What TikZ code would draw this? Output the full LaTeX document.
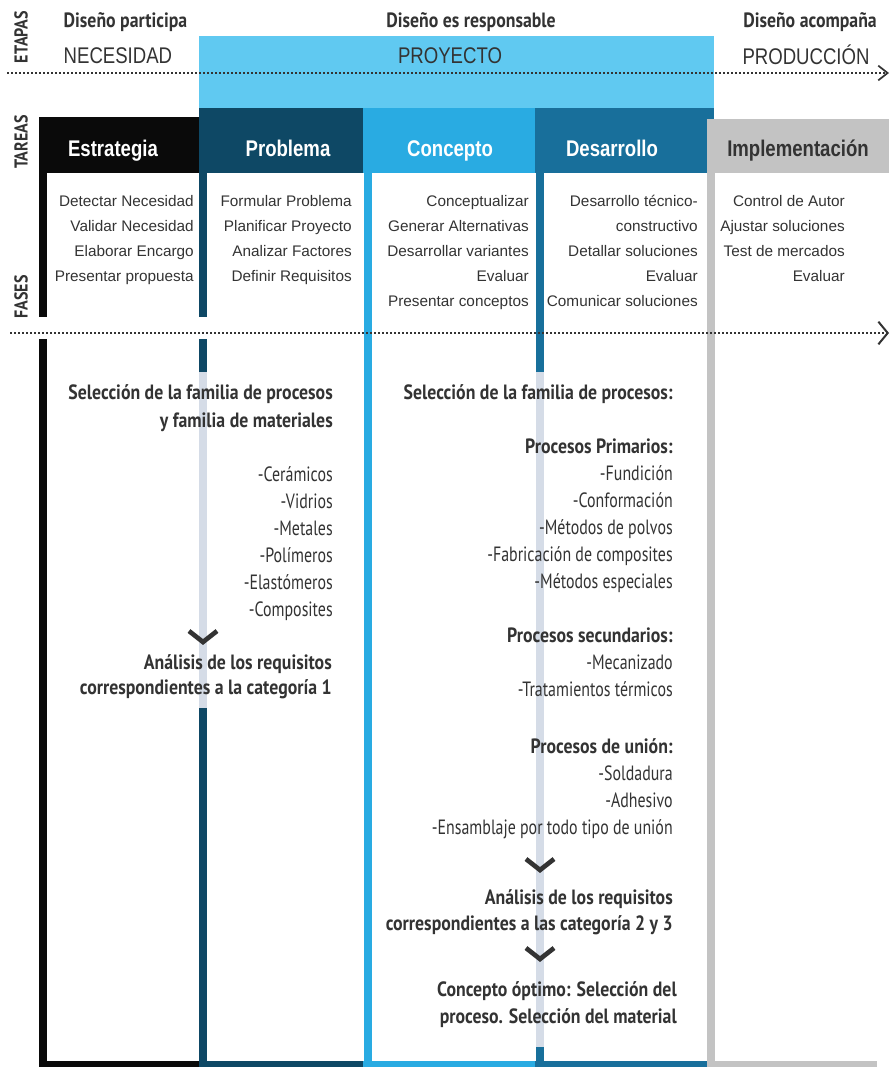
\documentclass[tikz,border=0pt]{standalone}
\usepackage{fontspec}
\setmainfont{Liberation Sans}
\newfontfamily\narrowfont[FakeStretch=0.82]{Liberation Sans}
\newfontfamily\condfont[FakeStretch=0.77]{PT Sans}
\newfontfamily\condbold[FakeStretch=0.86]{PT Sans}
\usetikzlibrary{positioning,arrows.meta}
\definecolor{estrat}{HTML}{0A0A0A}
\definecolor{problem}{HTML}{0E4865}
\definecolor{concep}{HTML}{29ABE2}
\definecolor{desarr}{HTML}{186F9B}
\definecolor{implem}{HTML}{C3C3C3}
\definecolor{proyband}{HTML}{60C9F1}
\definecolor{paleline}{HTML}{D5DCE7}
\definecolor{txtgray}{HTML}{333333}
\tikzset{
	vline/.style={line width=6pt},
	baseline/.style={line width=4.5pt},
	dotline/.style={txtgray, line width=1.6pt, dash pattern=on 1.4pt off 1.6pt},
	header/.style={anchor=base, text=white, font=\narrowfont\bfseries\fontsize{17}{20}\selectfont},
	etapa/.style={anchor=base, text=txtgray, font=\narrowfont\fontsize{17}{20}\selectfont},
	rol/.style={anchor=base, text=txtgray, font=\condbold\bfseries\fontsize{15.5}{18}\selectfont},
	tarea/.style={anchor=north east, align=right, inner sep=0pt, text=txtgray, font=\fontsize{11.5}{18.75}\selectfont},
	bloque/.style={anchor=north east, align=right, inner sep=0pt, text=txtgray, font=\condfont\fontsize{15.5}{20.25}\selectfont},
	titulo/.style={bloque, font=\condbold\bfseries\fontsize{15.5}{#1}\selectfont},
	etiqueta/.style={rotate=90, text=txtgray, font=\condbold\bfseries\fontsize{14}{16}\selectfont},
	chevron/.style={txtgray, line width=3.5pt, miter limit=10},
}
\begin{document}
\begin{tikzpicture}[x=0.75pt,y=-0.75pt]
	\useasboundingbox (0,0) rectangle (889,1067);
	\fill[proyband] (199,36) rectangle (714,108);
	\fill[estrat] (39,117) rectangle (199,173);
	\fill[problem] (199,108) rectangle (363,173);
	\fill[concep] (363,108) rectangle (535,173);
	\fill[desarr] (535,108) rectangle (714,173);
	\fill[implem] (707,119) rectangle (889,173);

	\draw[vline, estrat] (43,173) -- (43,317);
	\draw[vline, estrat] (43,339) -- (43,1067);
	\draw[vline, problem] (203,173) -- (203,317);
	\draw[vline, problem] (203,339) -- (203,372);
	\draw[vline, paleline] (203,372) -- (203,708);
	\draw[vline, problem] (203,708) -- (203,1067);
	\draw[vline, concep] (368,173) -- (368,1067);
	\draw[vline, desarr] (539.5,173) -- (539.5,372);
	\draw[vline, paleline] (539.5,372) -- (539.5,1047);
	\draw[vline, desarr] (539.5,1047) -- (539.5,1067);
	\draw[vline, implem] (711,173) -- (711,1061);
	\draw[baseline, estrat] (39,1064) -- (199,1064);
	\draw[baseline, problem] (199,1064) -- (363,1064);
	\draw[baseline, concep] (363,1064) -- (535,1064);
	\draw[baseline, desarr] (535,1064) -- (707,1064);
	\draw[baseline, implem] (707,1064) -- (877,1064);

	\coordinate (etL) at (7,73);
	\coordinate (etR) at (889,73);
	\coordinate (faL) at (10,333);
	\coordinate (faR) at (889,333);
	\draw[dotline, -{Straight Barb[length=7pt, width=11pt, line width=1.3pt]}] (etL) -- (etR);
	\draw[dotline, -{Straight Barb[length=7pt, width=17pt, line width=1.5pt]}] (faL) -- (faR);

	\node[etiqueta] (lEtapas) at (21,37) {ETAPAS};
	\node[etiqueta] (lTareas) at (21,142) {TAREAS};
	\node[etiqueta] (lFases) at (21,297) {FASES};

	\node[rol, anchor=base west] (rPart) at (59,27) {Diseño participa};
	\node[rol] (rResp) at (471,27) {Diseño es responsable};
	\node[rol] (rAcom) at (810,27) {Diseño acompaña};
	\node[etapa, anchor=base west] (eNec) at (59,63) {NECESIDAD};
	\node[etapa] (eProy) at (450,63) {PROYECTO};
	\node[etapa] (eProd) at (806,64) {PRODUCCIÓN};

	\node[header] (hEstr) at (113,156) {Estrategia};
	\node[header] (hProb) at (288,156) {Problema};
	\node[header] (hConc) at (450,156) {Concepto};
	\node[header] (hDesa) at (612,156) {Desarrollo};
	\node[header, text=txtgray] (hImpl) at (798,156) {Implementación};

	\node[tarea] (tEstr) at (194,195) {Detectar Necesidad\\Validar Necesidad\\Elaborar Encargo\\Presentar propuesta};
	\node[tarea] (tProb) at (352,195) {Formular Problema\\Planificar Proyecto\\Analizar Factores\\Definir Requisitos};
	\node[tarea] (tConc) at (529,195) {Conceptualizar\\Generar Alternativas\\Desarrollar variantes\\Evaluar\\Presentar conceptos};
	\node[tarea] (tDesa) at (698,195) {Desarrollo técnico-\\constructivo\\Detallar soluciones\\Evaluar\\Comunicar soluciones};
	\node[tarea] (tImpl) at (845,195) {Control de Autor\\Ajustar soluciones\\Test de mercados\\Evaluar};

	\node[titulo=21] (famMat) at (333,384) {Selección de la familia de procesos\\y familia de materiales};
	\node[bloque] (listMat) at (333,466) {-Cerámicos\\-Vidrios\\-Metales\\-Polímeros\\-Elastómeros\\-Composites};
	\draw[chevron] (189,631) -- (203,642) -- (217,631);
	\node[titulo=19] (anaUno) at (332,654) {Análisis de los requisitos\\correspondientes a la categoría 1};

	\node[titulo=21] (famProc) at (673,384) {Selección de la familia de procesos:};
	\node[bloque] (primarios) at (673,439) {{\condbold\bfseries Procesos Primarios:}\\-Fundición\\-Conformación\\-Métodos de polvos\\-Fabricación de composites\\-Métodos especiales};
	\node[bloque] (secundarios) at (673,628) {{\condbold\bfseries Procesos secundarios:}\\-Mecanizado\\-Tratamientos térmicos};
	\node[bloque] (union) at (673,738) {{\condbold\bfseries Procesos de unión:}\\-Soldadura\\-Adhesivo\\-Ensamblaje por todo tipo de unión};
	\draw[chevron] (526,859) -- (540,870) -- (554,859);
	\node[titulo=19.5] (anaDos) at (673,889) {Análisis de los requisitos\\correspondientes a las categoría 2 y 3};
	\draw[chevron] (526,948) -- (540,959) -- (554,948);
	\node[titulo=20.25] (optimo) at (677,981) {Concepto óptimo: Selección del\\proceso. Selección del material};
\end{tikzpicture}
\end{document}
